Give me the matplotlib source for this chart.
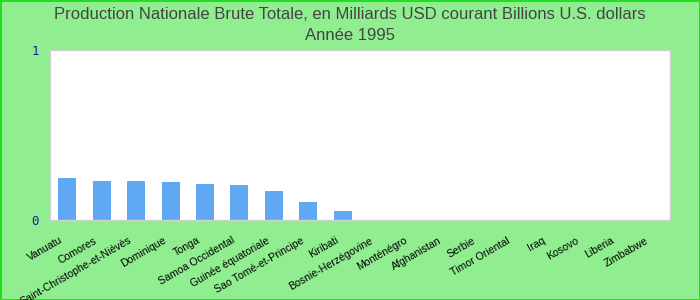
import matplotlib
matplotlib.use("Agg")
import matplotlib.pyplot as plt
import matplotlib.transforms as mtransforms
import numpy as np

plt.rcParams['font.family'] = ['Liberation Sans', 'DejaVu Sans']

pays = ["Vanuatu", "Comores", "Saint-Christophe-et-Niévès", "Dominique", "Tonga",
        "Samoa Occidental", "Guinée équatoriale", "Sao Tomé-et-Principe", "Kiribati",
        "Bosnie-Herzégovine", "Monténégro", "Afghanistan", "Serbie", "Timor Oriental",
        "Iraq", "Kosovo", "Liberia", "Zimbabwe"]
valeurs = [0.249, 0.231, 0.231, 0.224, 0.212, 0.206, 0.171, 0.106, 0.053,
           0, 0, 0, 0, 0, 0, 0, 0, 0]

fig = plt.figure(figsize=(7, 3), dpi=100)
fig.patch.set_facecolor('#90ee90')
fig.patch.set_edgecolor('#22dd22')
fig.patch.set_linewidth(2)

ax = fig.add_axes([50 / 700, 80 / 300, 620 / 700, 170 / 300])
x = np.arange(len(pays))
ax.bar(x, valeurs, width=0.52, color='#60a8f4')

ax.set_xlim(-0.5, len(pays) - 0.5)
ax.set_ylim(0, 1)
ax.set_yticks([0, 1])
ax.set_yticklabels(["0", "1"], color='#1a1aa6', family='DejaVu Sans Mono', fontsize=9)
ax.tick_params(axis='y', length=0, pad=8)

ax.set_xticks(x)
ax.set_xticklabels(pays, rotation=30, ha='right', rotation_mode='anchor', fontsize=7.6)
ax.tick_params(axis='x', length=0, pad=11)
decal = mtransforms.ScaledTranslation(-0.08, 0, fig.dpi_scale_trans)
for lab in ax.get_xticklabels():
    lab.set_transform(lab.get_transform() + decal)

for s in ax.spines.values():
    s.set_color('#d0d0d0')
    s.set_linewidth(1)

fig.text(0.5, 0.953, "Production Nationale Brute Totale, en Milliards USD courant Billions U.S. dollars",
         ha='center', va='center', fontsize=12, color='#444444')
fig.text(0.5, 0.883, "Année 1995", ha='center', va='center', fontsize=12, color='#444444')

fig.savefig("out.png", dpi=100, facecolor=fig.get_facecolor(), edgecolor=fig.get_edgecolor())
